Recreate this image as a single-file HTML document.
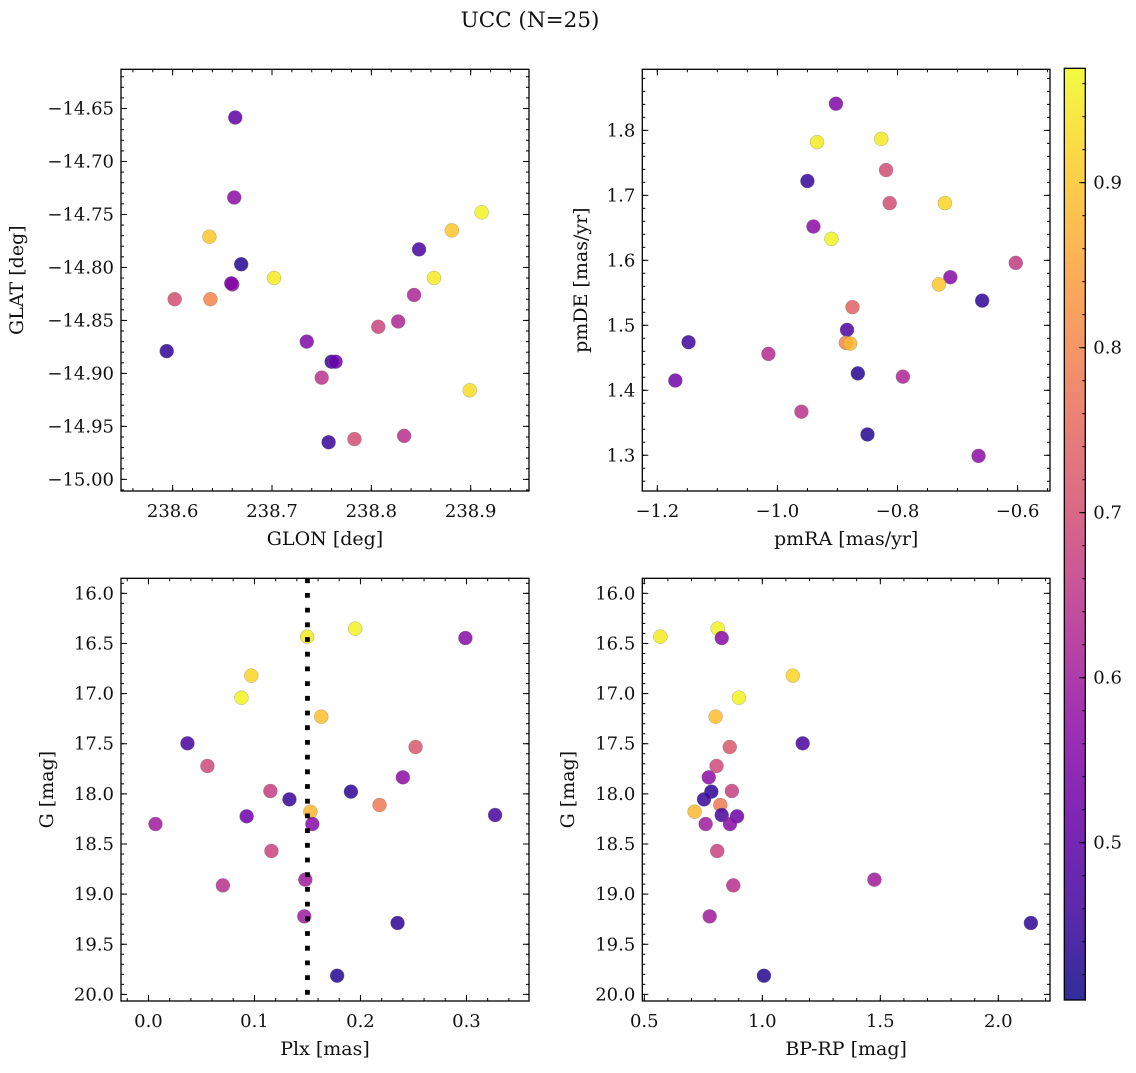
<!DOCTYPE html>
<html><head><meta charset="utf-8">
<style>
html,body{margin:0;padding:0;background:#fff;}
svg text{font-family:"DejaVu Serif","Liberation Serif",serif;fill:#111;}
</style></head>
<body>
<svg id="fig" width="1136" height="1068" viewBox="0 0 1136 1068" xmlns="http://www.w3.org/2000/svg">
<text x="530" y="27" font-size="21.5" text-anchor="middle">UCC (N=25)</text>
</svg>
<script>
// ---- Panel 1: GLON vs GLAT ----
const glon1 = [238.663,238.662,238.637,238.669,238.660,238.602,238.638,238.594,238.702,238.735,238.750,238.760,238.764,238.757,238.783,238.807,238.827,238.843,238.848,238.863,238.881,238.911,238.899,238.833,238.659];
const glat1 = [-14.6585,-14.734,-14.771,-14.797,-14.816,-14.830,-14.830,-14.879,-14.810,-14.870,-14.904,-14.889,-14.889,-14.965,-14.962,-14.856,-14.851,-14.826,-14.783,-14.810,-14.765,-14.748,-14.916,-14.959,-14.815];
const prob1 = [0.50,0.57,0.90,0.43,0.58,0.70,0.80,0.44,0.95,0.55,0.65,0.45,0.52,0.45,0.70,0.68,0.62,0.62,0.47,0.95,0.90,0.96,0.93,0.64,0.55];
// ---- Panel 2: pmRA vs pmDE ----
const pmra2 = [-0.9025,-0.934,-0.827,-0.819,-0.950,-0.813,-0.721,-0.940,-0.910,-0.603,-0.712,-0.731,-0.659,-0.875,-0.884,-0.886,-0.879,-1.148,-1.015,-1.170,-0.866,-0.791,-0.960,-0.850,-0.665];
const pmde2 = [1.841,1.782,1.787,1.739,1.722,1.688,1.688,1.652,1.633,1.596,1.574,1.563,1.538,1.528,1.493,1.473,1.472,1.474,1.456,1.415,1.426,1.421,1.367,1.332,1.299];
const prob2 = [0.55,0.95,0.95,0.70,0.45,0.70,0.92,0.57,0.96,0.66,0.56,0.90,0.44,0.74,0.48,0.80,0.88,0.46,0.63,0.53,0.43,0.62,0.65,0.43,0.57];
// ---- Panels 3 & 4: Plx / BP-RP vs G ----
const gmag = [16.432,16.352,16.446,16.821,17.041,17.230,17.496,17.533,17.722,17.835,17.972,17.978,18.055,18.111,18.178,18.224,18.211,18.301,18.301,18.570,18.913,18.856,19.222,19.288,19.814];
const plx3 = [0.1497,0.195,0.299,0.097,0.0877,0.163,0.0368,0.252,0.0556,0.240,0.115,0.191,0.133,0.218,0.1527,0.0926,0.327,0.0066,0.1546,0.116,0.0702,0.148,0.147,0.235,0.178];
const bprp4 = [0.568,0.811,0.828,1.129,0.901,0.802,1.171,0.862,0.806,0.773,0.871,0.784,0.753,0.822,0.713,0.893,0.828,0.760,0.863,0.809,0.877,1.475,0.777,2.138,1.007];
const prob34 = [0.95,0.96,0.56,0.92,0.96,0.89,0.47,0.72,0.69,0.57,0.67,0.44,0.45,0.78,0.88,0.52,0.47,0.60,0.56,0.68,0.64,0.60,0.60,0.44,0.43];
const plxLine = [0.15];
// ---- Tick labels ----
const ticks1x = [238.6,238.7,238.8,238.9];
const ticks1y = [-14.65,-14.70,-14.75,-14.80,-14.85,-14.90,-14.95,-15.00];
const ticks2x = [-1.2,-1.0,-0.8,-0.6];
const ticks2y = [1.3,1.4,1.5,1.6,1.7,1.8];
const ticks3x = [0.0,0.1,0.2,0.3];
const ticks4x = [0.5,1.0,1.5,2.0];
const ticksG = [16.0,16.5,17.0,17.5,18.0,18.5,19.0,19.5,20.0];
const ticksCb = [0.5,0.6,0.7,0.8,0.9];
const cbMin = 0.4047, cbMax = 0.9693;

const NS = "http://www.w3.org/2000/svg";
const svg = document.getElementById('fig');
function mk(tag, attrs, parent){ const e=document.createElementNS(NS,tag); for(const k in attrs) e.setAttribute(k,attrs[k]); (parent||svg).appendChild(e); return e; }

const plasma = [[13,8,135],[65,4,157],[106,0,168],[143,13,164],[177,42,144],[204,71,120],[225,100,98],[242,132,75],[252,166,54],[252,206,37],[240,249,33]];
function cmap(p){
  let t=(p-cbMin)/(cbMax-cbMin); t=Math.max(0,Math.min(1,t));
  const f=t*10, i=Math.min(9,Math.floor(f)), r=f-i;
  const a=plasma[i], b=plasma[i+1];
  return 'rgb('+a.map((v,k)=>Math.round(v+(b[k]-v)*r)).join(',')+')';
}
function fmt(v,d){ const s=Math.abs(v).toFixed(d); return (v<0?'\u2212':'')+s; }

function panel(name, box, xr, yr, invertY, xt, yt, xd, yd, xminor, yminor, xs, ys, cs, xlabel, ylabel, ylabx){
  const g = mk('g',{});
  
  
  const [L,T,R,B]=box;
  const sx = v => L + (v-xr[0])/(xr[1]-xr[0])*(R-L);
  const sy = v => invertY ? T + (v-yr[0])/(yr[1]-yr[0])*(B-T) : B - (v-yr[0])/(yr[1]-yr[0])*(B-T);
  const tg = mk('g',{stroke:'#000','stroke-width':1},g);
  function xticks(step,len){
    const s=Math.ceil(xr[0]/step-1e-6);
    for(let k=s; k*step<=xr[1]+1e-9; k++){ const x=sx(k*step);
      mk('line',{x1:x,x2:x,y1:B,y2:B-len},tg); mk('line',{x1:x,x2:x,y1:T,y2:T+len},tg); }
  }
  function yticks(step,len){
    const lo=Math.min(yr[0],yr[1]), hi=Math.max(yr[0],yr[1]);
    const s=Math.ceil(lo/step-1e-6);
    for(let k=s; k*step<=hi+1e-9; k++){ const y=sy(k*step);
      mk('line',{x1:L,x2:L+len,y1:y,y2:y},tg); mk('line',{x1:R,x2:R-len,y1:y,y2:y},tg); }
  }
  xticks(xminor,3); yticks(yminor,3);
  xt.forEach(v=>{ const x=sx(v); mk('line',{x1:x,x2:x,y1:B,y2:B-6},tg); mk('line',{x1:x,x2:x,y1:T,y2:T+6},tg);
    const t=mk('text',{x:x,y:B+26,'font-size':18,'text-anchor':'middle'},g); t.textContent=fmt(v,xd);
      });
  yt.forEach(v=>{ const y=sy(v); mk('line',{x1:L,x2:L+6,y1:y,y2:y},tg); mk('line',{x1:R,x2:R-6,y1:y,y2:y},tg);
    const t=mk('text',{x:L-7,y:y+6,'font-size':18,'text-anchor':'end'},g); t.textContent=fmt(v,yd);
      });
  const xl=mk('text',{x:(L+R)/2,y:B+54,'font-size':19,'text-anchor':'middle'},g); xl.textContent=xlabel;
   
  const ylx=ylabx, yly=(T+B)/2;
  const yl=mk('text',{x:ylx,y:yly,'font-size':19,'text-anchor':'middle',transform:'rotate(-90 '+ylx+' '+yly+')'},g); yl.textContent=ylabel;
   
  return {g,sx,sy,L,T,R,B,
    points(){
      xs.forEach((v,i)=>{ const c=mk('circle',{cx:sx(v),cy:sy(ys[i]),r:7,fill:cmap(cs[i]),'fill-opacity':0.85,stroke:'#777','stroke-width':0.4,'stroke-opacity':0.7},g);
          });
    },
    frame(){ const f=mk('rect',{x:L,y:T,width:R-L,height:B-T,fill:'none',stroke:'#000','stroke-width':1.3},g);
        }
  };
}

const p1 = panel('panel-glon-glat',[121,69.3,529,491],[238.548,238.9587],[-15.011,-14.613],false,ticks1x,ticks1y,1,2,0.02,0.01,glon1,glat1,prob1,'GLON [deg]','GLAT [deg]',23);
p1.points(); p1.frame();
const p2 = panel('panel-pm',[642.3,69.3,1050,491],[-1.225,-0.546],[1.245,1.894],false,ticks2x,ticks2y,1,1,0.05,0.02,pmra2,pmde2,prob2,'pmRA [mas/yr]','pmDE [mas/yr]',587);
p2.points(); p2.frame();
const p3 = panel('panel-plx-g',[121,578.3,529,1001],[-0.0259,0.359],[15.85,20.066],true,ticks3x,ticksG,1,1,0.02,0.1,plx3,gmag,prob34,'Plx [mas]','G [mag]',53);
p3.points();
plxLine.forEach(v=>{ const l=mk('line',{x1:p3.sx(v),x2:p3.sx(v),y1:p3.T,y2:p3.B,stroke:'#000','stroke-width':4.8,'stroke-dasharray':'4.8 9.9'},p3.g);
    });
p3.frame();
const p4 = panel('panel-cmd',[642.3,578.3,1050,1001],[0.4915,2.219],[15.85,20.066],true,ticks4x,ticksG,1,1,0.1,0.1,bprp4,gmag,prob34,'BP-RP [mag]','G [mag]',574);
p4.points(); p4.frame();

// ---- Colorbar ----
const cb = mk('g',{});


const CL=1064.3, CR=1085.3, CT=68.3, CB=1000;
const defs=mk('defs',{},cb);
const grad=mk('linearGradient',{id:'plasmaGrad',x1:0,y1:1,x2:0,y2:0},defs);
for(let i=0;i<=20;i++){ const p=cbMin+(cbMax-cbMin)*i/20; mk('stop',{offset:(i/20),'stop-color':cmap(p)},grad); }
mk('rect',{x:CL,y:CT,width:CR-CL,height:CB-CT,fill:'url(#plasmaGrad)','fill-opacity':0.85},cb);
const cy = v => CB - (v-cbMin)/(cbMax-cbMin)*(CB-CT);
for(let k=Math.ceil(cbMin/0.02); k*0.02<=cbMax; k++){ const y=cy(k*0.02); mk('line',{x1:CR,x2:CR-3,y1:y,y2:y,stroke:'#000','stroke-width':1},cb); }
ticksCb.forEach(v=>{ const y=cy(v); mk('line',{x1:CR,x2:CR-6,y1:y,y2:y,stroke:'#000','stroke-width':1},cb);
  const t=mk('text',{x:CR+8,y:y+6,'font-size':18},cb); t.textContent=v.toFixed(1);
    });
mk('rect',{x:CL,y:CT,width:CR-CL,height:CB-CT,fill:'none',stroke:'#000','stroke-width':1.3},cb);
</script>
</body></html>
